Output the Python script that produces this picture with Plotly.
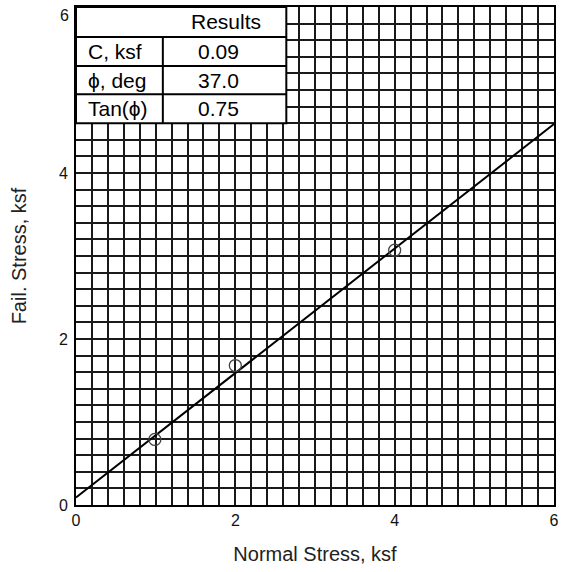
import plotly.graph_objects as go

# ---- data ----
normal_stress = [0.99, 2.0, 4.0]      # ksf
fail_stress = [0.79, 1.68, 3.07]      # ksf
result_labels = ["C, ksf", "ϕ, deg", "Tan(ϕ)"]
result_values = ["0.09", "37.0", "0.75"]
cohesion = 0.09
tan_phi = 0.75
fit_x = [0, 6]
fit_y = [cohesion + tan_phi * x for x in fit_x]
tick_vals = [0, 2, 4, 6]

FONT = "Liberation Sans, Arial, sans-serif"

fig = go.Figure()
fig.add_trace(go.Scatter(x=fit_x, y=fit_y, mode="lines",
                         line=dict(color="black", width=2), hoverinfo="skip"))
fig.add_trace(go.Scatter(x=normal_stress, y=fail_stress, mode="markers",
                         marker=dict(symbol="circle-open", size=12,
                                     color="#444", line=dict(width=1.3))))

# ---- results table (drawn over the grid) ----
tx0, tx1, tcol = 0, 2.64, 1.09
row_y = [6, 5.64, 5.29, 4.95, 4.60]
shapes = [dict(type="rect", xref="x", yref="y", x0=tx0, x1=tx1, y0=row_y[-1], y1=row_y[0],
               fillcolor="white", line=dict(color="black", width=2), layer="above")]
for yy in row_y[1:-1]:
    shapes.append(dict(type="line", xref="x", yref="y", x0=tx0, x1=tx1, y0=yy, y1=yy,
                       line=dict(color="black", width=2), layer="above"))
shapes.append(dict(type="line", xref="x", yref="y", x0=tcol, x1=tcol, y0=row_y[-1], y1=row_y[1],
                   line=dict(color="black", width=2), layer="above"))

annotations = [dict(x=(tcol + tx1) / 2 + 0.02, y=(row_y[0] + row_y[1]) / 2, xref="x", yref="y",
                    text="Results", showarrow=False, font=dict(family=FONT, size=21, color="black"))]
for i, (lab, val) in enumerate(zip(result_labels, result_values)):
    yc = (row_y[i + 1] + row_y[i + 2]) / 2
    annotations.append(dict(x=tx0 + 0.12, y=yc, xref="x", yref="y", xanchor="left",
                            text=lab, showarrow=False,
                            font=dict(family=FONT, size=21, color="black")))
    annotations.append(dict(x=(tcol + tx1) / 2 - 0.08, y=yc, xref="x", yref="y",
                            text=val, showarrow=False,
                            font=dict(family=FONT, size=21, color="black")))
# top y tick label (would be clipped at the page edge as a normal tick label)
annotations.append(dict(x=0, y=1, xref="paper", yref="paper", xanchor="right", yanchor="top",
                        xshift=-5, yshift=2, text=str(tick_vals[-1]), showarrow=False,
                        font=dict(family=FONT, size=16, color="#111")))

axis_common = dict(range=[0, 6], showgrid=True, gridcolor="#1a1a1a", gridwidth=1.8,
                   zeroline=False, showline=True, linecolor="black", linewidth=2, mirror=True,
                   ticks="outside", tickcolor="rgba(0,0,0,0)",
                   tickfont=dict(family=FONT, size=16, color="#111"))

fig.update_layout(
    width=562, height=572,
    margin=dict(l=76, r=3, t=7, b=67),
    paper_bgcolor="white", plot_bgcolor="white",
    showlegend=False,
    shapes=shapes, annotations=annotations,
    xaxis=dict(**axis_common, ticklen=0, tickmode="array", tickvals=tick_vals,
               title=dict(text="Normal Stress, ksf", standoff=19,
                          font=dict(family=FONT, size=20, color="#222"))),
    yaxis=dict(**axis_common, ticklen=3, tickmode="array", tickvals=tick_vals[:-1],
               title=dict(text="Fail. Stress, ksf", standoff=27,
                          font=dict(family=FONT, size=20, color="#222"))),
)
fig.update_xaxes(minor=dict(dtick=0.2, showgrid=True, gridcolor="#1a1a1a", gridwidth=1.8, ticks=""))
fig.update_yaxes(minor=dict(dtick=0.2, showgrid=True, gridcolor="#1a1a1a", gridwidth=1.8, ticks=""))

fig.write_html("out.html", config={"displayModeBar": False},
               post_script="document.body.style.margin='0px';")
